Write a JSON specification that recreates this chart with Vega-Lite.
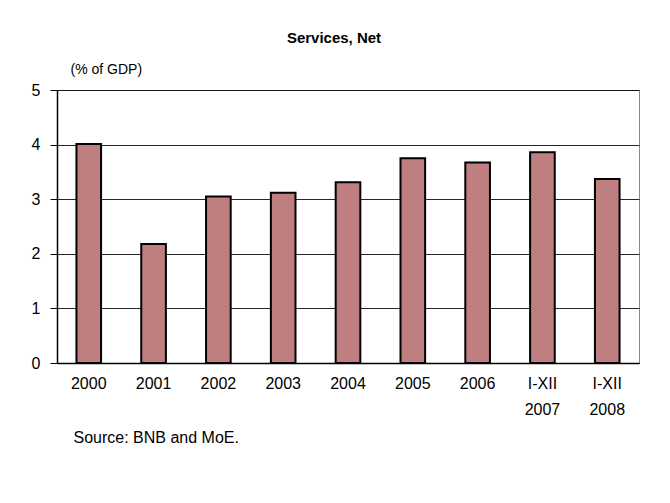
{
  "$schema": "https://vega.github.io/schema/vega-lite/v6.json",
  "autosize": {"type": "none"},
  "padding": {"left": 57, "top": 90, "right": 31, "bottom": 140},
  "width": 582,
  "height": 273,
  "background": "white",
  "title": {
    "text": "Services, Net",
    "font": "Liberation Sans",
    "fontSize": 15,
    "fontWeight": "bold",
    "color": "black",
    "anchor": "middle",
    "dx": -14,
    "offset": 16
  },
  "data": {
    "values": [
      {"period": "2000", "value": 4.01},
      {"period": "2001", "value": 2.18},
      {"period": "2002", "value": 3.05},
      {"period": "2003", "value": 3.12},
      {"period": "2004", "value": 3.31},
      {"period": "2005", "value": 3.75},
      {"period": "2006", "value": 3.67},
      {"period": "I-XII 2007", "value": 3.86},
      {"period": "I-XII 2008", "value": 3.37}
    ]
  },
  "mark": {
    "type": "bar",
    "color": "#bf7f80",
    "stroke": "black",
    "strokeWidth": 2
  },
  "encoding": {
    "x": {
      "field": "period",
      "type": "nominal",
      "sort": null,
      "scale": {"paddingInner": 0.62, "paddingOuter": 0.3},
      "axis": {
        "title": "Source: BNB and MoE.",
        "titleFont": "Liberation Sans",
        "titleFontSize": 16,
        "titleFontWeight": "normal",
        "titleColor": "black",
        "titleAnchor": "start",
        "titleAlign": "left",
        "titleX": 16,
        "titleY": 66,
        "labelAngle": 0,
        "labelFont": "Liberation Sans",
        "labelFontSize": 16,
        "labelColor": "black",
        "labelPadding": 12,
        "labelLineHeight": 26,
        "labelExpr": "split(datum.label, ' ')",
        "ticks": false,
        "domainColor": "black",
        "domainWidth": 1.5
      }
    },
    "y": {
      "field": "value",
      "type": "quantitative",
      "scale": {"domain": [0, 5]},
      "axis": {
        "title": "(% of GDP)",
        "titleFont": "Liberation Sans",
        "titleFontSize": 14,
        "titleFontWeight": "normal",
        "titleColor": "black",
        "titleAngle": 0,
        "titleAlign": "left",
        "titleX": 13,
        "titleY": -14,
        "values": [0, 1, 2, 3, 4, 5],
        "labelFont": "Liberation Sans",
        "labelFontSize": 16,
        "labelColor": "black",
        "labelPadding": 10,
        "tickColor": "black",
        "tickSize": 7,
        "domainColor": "black",
        "domainWidth": 1.5,
        "gridColor": "black",
        "gridOpacity": 0.85,
        "gridWidth": 1.2
      }
    }
  },
  "config": {
    "view": {"stroke": "#888888", "strokeWidth": 1}
  }
}
